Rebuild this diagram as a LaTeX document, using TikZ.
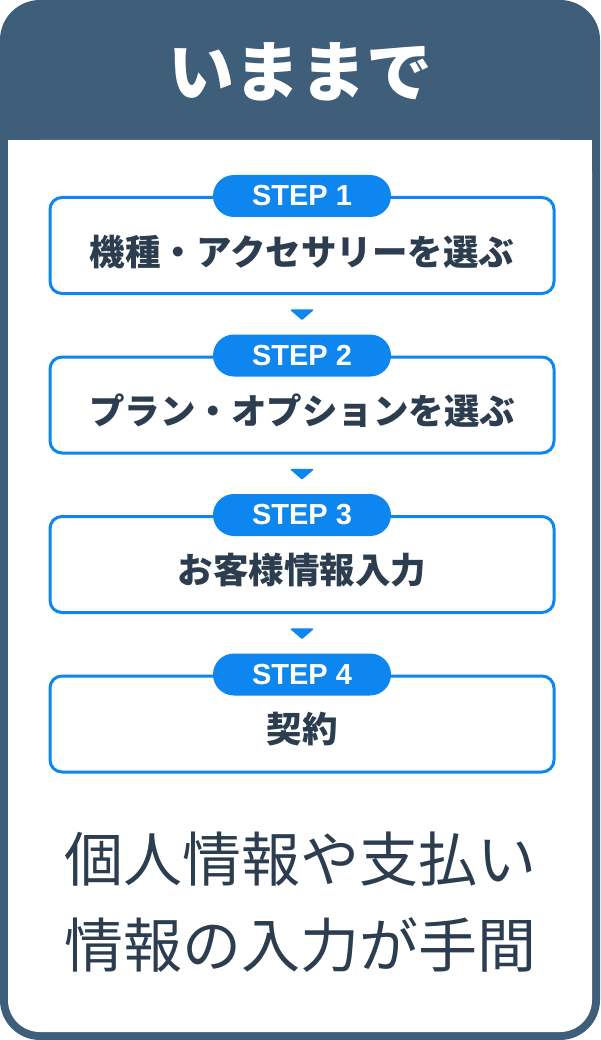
\documentclass[tikz,border=0pt]{standalone}
\usepackage{fontspec}
\setmainfont{Noto Sans CJK JP}
\newfontfamily\stepfont{Liberation Sans}
\usetikzlibrary{calc}

\definecolor{framecol}{HTML}{3E5E7A}
\definecolor{stepblue}{HTML}{0D86F0}
\definecolor{inkcol}{HTML}{2C3D4F}

\begin{document}
\begin{tikzpicture}[
    x=1pt, y=-1pt,
    stepbox/.style={
        rectangle, draw=stepblue, line width=3pt, rounded corners=12pt,
        fill=white, minimum width=504pt, minimum height=96pt, anchor=north
    },
    steptag/.style={
        rectangle, fill=stepblue, rounded corners=21pt,
        minimum width=178pt, minimum height=42pt, inner sep=0pt,
        text=white, font=\stepfont\bfseries\fontsize{29}{30}\selectfont
    },
    steptext/.style={
        text=inkcol, font=\bfseries\fontsize{35.5}{40}\selectfont
    },
    pointer/.style={fill=stepblue, draw=stepblue, line width=1.5pt, line join=round}
]

% ==================== FRAME ====================
\useasboundingbox (0,0) rectangle (600,1040);
\fill[framecol, rounded corners=40pt] (0,0) rectangle (600,1040);
\fill[white, rounded corners=32pt] (8,140) rectangle (592,1032);
\fill[white] (8,140) rectangle (592,200);

% Header
\node[text=white, font=\bfseries\fontsize{66}{66}\selectfont] (title) at (300,72) {いままで};

% ==================== STEPS ====================
\node[stepbox] (step1) at (302,196) {};
\node[steptag] (tag1) at (step1.north) {STEP 1};
\node[steptext] (text1) at (302,252) {機種・アクセサリーを選ぶ};

\node[stepbox] (step2) at (302,355.5) {};
\node[steptag] (tag2) at (step2.north) {STEP 2};
\node[steptext] (text2) at (302,411) {プラン・オプションを選ぶ};

\node[stepbox] (step3) at (302,515) {};
\node[steptag] (tag3) at (step3.north) {STEP 3};
\node[steptext] (text3) at (302,570) {お客様情報入力};

\node[stepbox] (step4) at (302,674.5) {};
\node[steptag] (tag4) at (step4.north) {STEP 4};
\node[steptext] (text4) at (302,729) {契約};

% ==================== ARROWS ====================
\coordinate (arr1) at ($(step1.south)!0.5!(tag2.north)$);
\coordinate (arr2) at ($(step2.south)!0.5!(tag3.north)$);
\coordinate (arr3) at ($(step3.south)!0.5!(tag4.north)$);
\fill[pointer] (arr1) ++(-10.5,-4.5) -- ++(21,0) -- ++(-10.5,9) -- cycle;
\fill[pointer] (arr2) ++(-10.5,-4.5) -- ++(21,0) -- ++(-10.5,9) -- cycle;
\fill[pointer] (arr3) ++(-10.5,-4.5) -- ++(21,0) -- ++(-10.5,9) -- cycle;

% ==================== SUMMARY ====================
\node[text=inkcol, align=center, font=\fontsize{59}{86}\selectfont] (summary) at (300,902)
    {個人情報や支払い\\情報の入力が手間};

\end{tikzpicture}
\end{document}
